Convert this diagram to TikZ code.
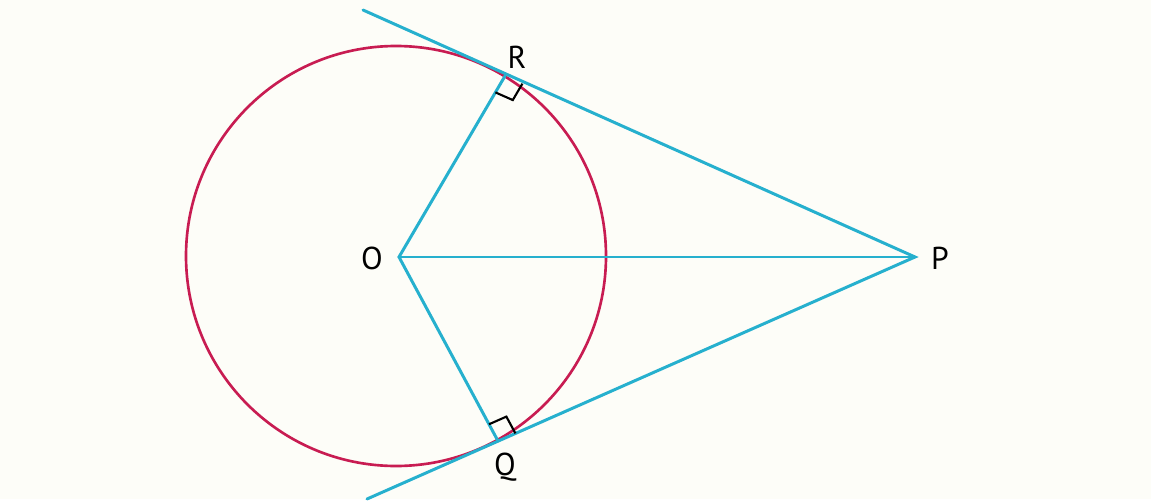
\documentclass[tikz,border=0pt]{standalone}
\usepackage{fontspec}
\setmainfont{PT Sans}
\usepackage{xcolor}
\usepackage{tikz}
\usetikzlibrary{calc}

\definecolor{paper}{RGB}{253,253,248}
\definecolor{ringred}{RGB}{200,28,82}
\definecolor{tancyan}{RGB}{38,176,206}

\begin{document}
\begin{tikzpicture}[
          x=0.02cm, y=-0.02cm,
          circ/.style={draw=ringred, line width=1.5pt},
          seg/.style={draw=tancyan, line width=1.7pt, line cap=round},
          rmark/.style={draw=black, line width=1.2pt},
          pname/.style={font=\fontsize{18}{20}\selectfont, inner sep=0pt}
        ]
          \fill[paper] (0,0) rectangle (1151,499);
          \coordinate (O) at (399,257);
          \coordinate (P) at (915,257);
          \coordinate (R) at (505,76);
          \coordinate (Q) at (498,441);
          \coordinate (top) at (363,10);
          \coordinate (bot) at (367,499);
          % circle
          \draw[circ] (396,256) circle (210);
          % tangents and radii
          \draw[seg] (top) -- (P) -- (bot);
          \draw[seg] (R) -- (O) -- (Q);
          \draw[seg] (O) -- (P);
          % right angles
          \coordinate (ra) at ($(R)!0.38cm!(O)$);
          \coordinate (rb) at ($(R)!0.38cm!(P)$);
          \draw[rmark] (ra) -- ($(ra)+(rb)-(R)$) -- (rb);
          \coordinate (qa) at ($(Q)!0.38cm!(O)$);
          \coordinate (qb) at ($(Q)!0.38cm!(P)$);
          \draw[rmark] (qa) -- ($(qa)+(qb)-(Q)$) -- (qb);
          % labels
          \node[pname] (labO) at (372,258) {O};
          \node[pname] (labP) at (940,258) {P};
          \node[pname] (labR) at (517,57) {R};
          \node[pname] (labQ) at (505,467) {Q};
        \end{tikzpicture}
\end{document}
